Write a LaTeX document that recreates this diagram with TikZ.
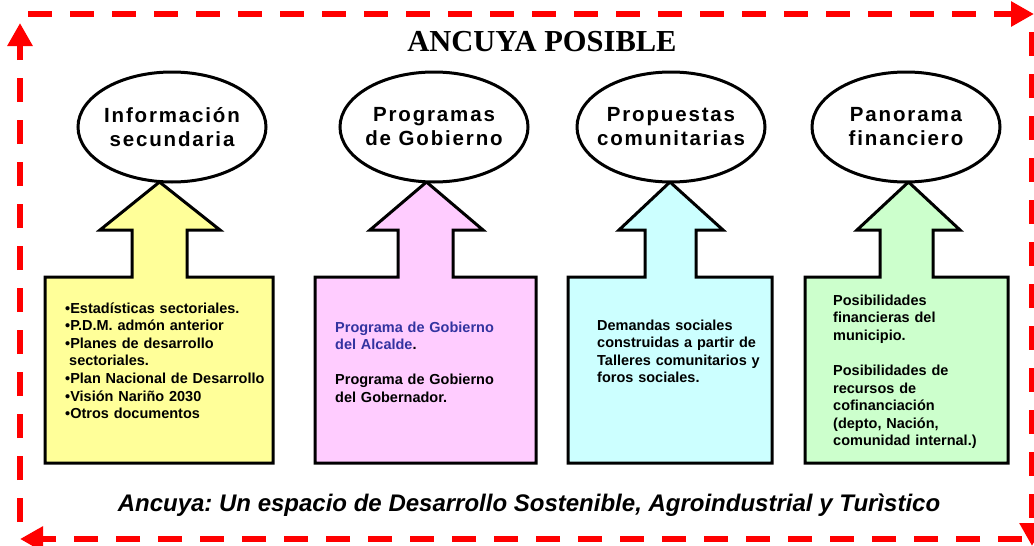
\documentclass[tikz,border=0pt]{standalone}
\usepackage{fontspec}
\setmainfont{Liberation Sans}
\newfontfamily\titlefont{Liberation Serif}
\newfontfamily\ellfont{Liberation Sans Bold}[LetterSpace=9]
\usetikzlibrary{arrows.meta,shapes.geometric}
\definecolor{cyel}{RGB}{255,255,153}
\definecolor{cpink}{RGB}{255,204,255}
\definecolor{ccyan}{RGB}{204,255,255}
\definecolor{cgreen}{RGB}{204,255,204}
\definecolor{cblue}{RGB}{51,51,160}
\frenchspacing
\begin{document}
\begin{tikzpicture}[x=1pt,y=-1pt,
  border/.style={draw=red, line width=6pt, dash pattern=on 24pt off 18pt,
    -{Triangle[length=23pt,width=24pt]}},
  ell/.style={draw, ellipse, line width=3pt, fill=white,
    minimum width=188pt, minimum height=110pt, inner sep=0pt},
  elltext/.style={font=\ellfont\fontsize{20.5}{24}\selectfont, align=center, inner sep=0pt},
  blockarrow/.style={draw, line width=3pt, line join=miter},
  boxtext/.style={font=\bfseries\fontsize{14.5}{17.6}\selectfont, align=left,
    anchor=base west, inner sep=0pt, text width=#1},
  boxtext/.default=220pt
]
\useasboundingbox (0,0) rectangle (1034,546);
\clip (0,0) rectangle (1034,546);

% dashed red frame
\coordinate (t1) at (28,14);   \coordinate (t2) at (1034,14);
\coordinate (r1) at (1032,32); \coordinate (r2) at (1032,546);
\coordinate (b1) at (1022,539);\coordinate (b2) at (20,539);
\coordinate (l1) at (20,522);  \coordinate (l2) at (20,23);
\draw[border] (t1) -- (t2);
\draw[border] (r1) -- (r2);
\draw[border] (b1) -- (b2);
\draw[border] (l1) -- (l2);

% title
\node[anchor=base, inner sep=0pt, font=\titlefont\bfseries\fontsize{30.5}{34}\selectfont] (title) at (542,51) {ANCUYA POSIBLE};

% block arrows
\draw[blockarrow, fill=cyel] (45,463) -- (45,277) -- (132,277) -- (132,230) -- (100,230)
  -- (159.5,182) coordinate (tip1) -- (220,230) -- (187,230) -- (187,277) -- (273,277) -- (273,463) -- cycle;
\draw[blockarrow, fill=cpink] (315,463) -- (315,277) -- (398,277) -- (398,230) -- (370,230)
  -- (426.5,182) coordinate (tip2) -- (483,230) -- (453,230) -- (453,277) -- (536,277) -- (536,463) -- cycle;
\draw[blockarrow, fill=ccyan] (568,463) -- (568,277) -- (645,277) -- (645,230) -- (619,230)
  -- (670,182) coordinate (tip3) -- (723,230) -- (696,230) -- (696,277) -- (772,277) -- (772,463) -- cycle;
\draw[blockarrow, fill=cgreen] (805,463) -- (805,277) -- (880,277) -- (880,230) -- (857,230)
  -- (908.5,182) coordinate (tip4) -- (960,230) -- (933,230) -- (933,277) -- (1008,277) -- (1008,463) -- cycle;

% ellipses
\node[ell] (e1) at (172,127) {};
\node[ell] (e2) at (434,127) {};
\node[ell] (e3) at (671,127) {};
\node[ell] (e4) at (906,127) {};
\node[elltext] (e1t) at (e1) {Información\\secundaria};
\node[elltext] (e2t) at (e2) {Programas\\de Gobierno};
\node[elltext] (e3t) at (e3) {Propuestas\\comunitarias};
\node[elltext] (e4t) at (e4) {Panorama\\financiero};

% box texts
\node[boxtext] (x1) at (65,313) {•Estadísticas sectoriales.\\
•P.D.M. admón anterior\\
•Planes de desarrollo\\
\hspace*{4pt}sectoriales.\\
•Plan Nacional de Desarrollo\\
•Visión Nariño 2030\\
•Otros documentos};
\node[boxtext] (x2) at (335,332) {\textcolor{cblue}{Programa de Gobierno}\\
\textcolor{cblue}{del Alcalde}.\\[17.6pt]
Programa de Gobierno\\
del Gobernador.};
\node[boxtext] (x3) at (597,330) {Demandas sociales\\
construidas a partir de\\
Talleres comunitarios y\\
foros sociales.};
\node[boxtext=170pt] (x4) at (833,305) {Posibilidades\\
financieras del\\
municipio.\\[17.6pt]
Posibilidades de\\
recursos de\\
cofinanciación\\
(depto, Nación,\\
comunidad internal.)};

% bottom slogan
\node[anchor=base, inner sep=0pt, font=\bfseries\itshape\fontsize{24}{27}\selectfont] (slogan) at (529,511)
  {Ancuya: Un espacio de Desarrollo Sostenible, Agroindustrial y Turìstico};
\end{tikzpicture}
\end{document}
